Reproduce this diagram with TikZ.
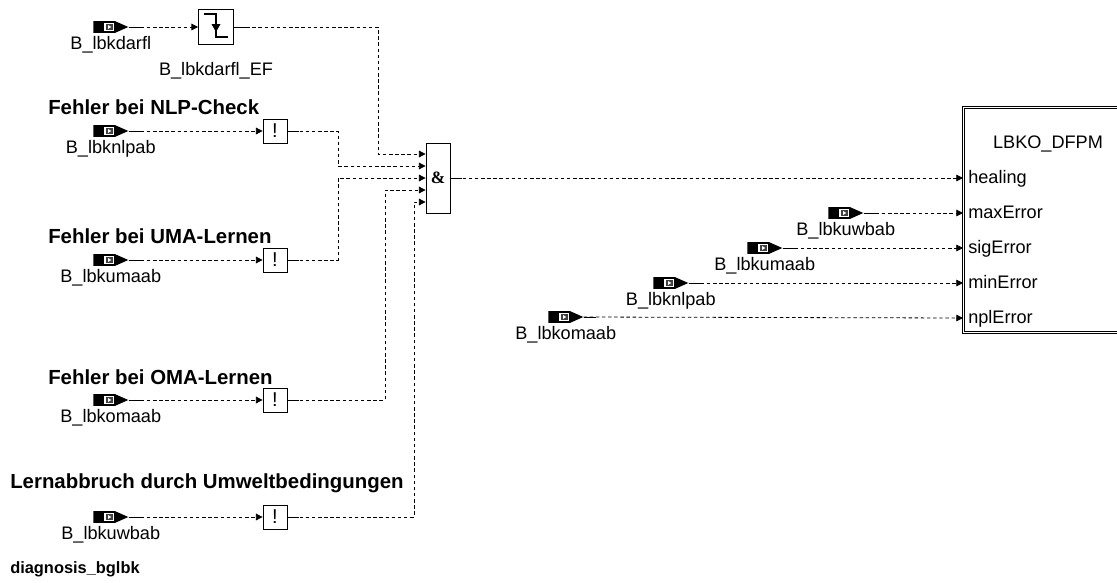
\documentclass[tikz,border=0pt]{standalone}
\usepackage{fontspec}
\setmainfont{Liberation Sans}
\newfontfamily\andfont{Liberation Serif}
\usetikzlibrary{arrows.meta,positioning}

\tikzset{
  wire/.style={line width=0.6pt, dash pattern=on 2.6pt off 2pt},
  stub/.style={line width=0.6pt},
  sig/.style={font=\fontsize{13.6}{15}\selectfont, inner sep=0pt},
  heading/.style={font=\bfseries\fontsize{15.3}{17}\selectfont, inner sep=0pt, anchor=base west},
  checkbox/.style={draw, line width=0.6pt, minimum width=24*0.75pt, minimum height=24*0.75pt,
    inner sep=0pt, font=\fontsize{15}{16}\selectfont},
  edgebox/.style={draw, line width=0.6pt, minimum width=35*0.75pt, minimum height=35*0.75pt, inner sep=0pt},
  andgate/.style={draw, line width=0.6pt, minimum width=24*0.75pt, minimum height=70*0.75pt,
    inner sep=0pt, font=\andfont\bfseries\fontsize{13}{15}\selectfont},
  block/.style={draw, line width=0.5pt, double, double distance=1.1pt, minimum width=160*0.75pt,
    minimum height=225*0.75pt, inner sep=0pt},
  inport/.style={minimum width=35*0.75pt, minimum height=12*0.75pt, inner sep=0pt, anchor=west,
    path picture={
      \coordinate (pp) at (path picture bounding box.west);
      \fill (pp) ++(0,-6) rectangle ++(22,12);
      \fill[white] (pp) ++(10.5,-4.4) rectangle ++(10.5,8.8);
      \fill[black!75] (pp) ++(13,-3.2) rectangle ++(6.4,6.4);
      \fill[white] (pp) ++(14.8,-2) -- ++(3.2,2) -- ++(-3.2,2) -- cycle;
      \fill (pp) ++(21.5,-6) -- ++(13.5,6) -- ++(-13.5,6) -- cycle;
    }}
}

\begin{document}
\begin{tikzpicture}[x=0.75pt, y=-0.75pt, >={Triangle[length=5pt,width=5pt]}]
\useasboundingbox (0,0) rectangle (1117,582);

% edge detection of B_lbkdarfl
\node[inport] (darfl) at (93,27) {};
\node[sig, below=2.25pt of darfl] (darflname) {B\_lbkdarfl};
\node[edgebox] (darflef) at (216,27) {};
\node[sig, below=13pt of darflef] (darflefname) {B\_lbkdarfl\_EF};
\draw[line width=1.3pt] (darflef.center) ++(-12,-13) -- ++(12,0) -- ++(0,23) -- ++(12,0);
\fill (darflef.center) ++(-4.5,-3) -- ++(9,0) -- ++(-4.5,8) -- cycle;
\draw[stub] (darfl.east) -- ++(12,0);
\draw[wire,->] (darfl.east) -- (darflef.west);

% error checks
\node[heading] (nlphead) at (48,114) {Fehler bei NLP-Check};
\node[inport] (nlp) at (93,131) {};
\node[sig, below=2.25pt of nlp] (nlpname) {B\_lbknlpab};
\node[checkbox] (nlpchk) at (275,131) {!};

\node[heading] (umahead) at (48,243) {Fehler bei UMA-Lernen};
\node[inport] (uma) at (93,260) {};
\node[sig, below=2.25pt of uma] (umaname) {B\_lbkumaab};
\node[checkbox] (umachk) at (275,260) {!};

\node[heading] (omahead) at (48,384) {Fehler bei OMA-Lernen};
\node[inport] (oma) at (93,400) {};
\node[sig, below=2.25pt of oma] (omaname) {B\_lbkomaab};
\node[checkbox] (omachk) at (275,400) {!};

\node[heading] (uwbhead) at (10,488) {Lernabbruch durch Umweltbedingungen};
\node[inport] (uwb) at (93,517) {};
\node[sig, below=2.25pt of uwb] (uwbname) {B\_lbkuwbab};
\node[checkbox] (uwbchk) at (275,517) {!};

\foreach \s in {nlp,uma,oma,uwb} {
  \draw[stub] (\s.east) -- ++(12,0);
  \draw[wire,->] (\s.east) -- (\s chk.west);
  \draw[stub] (\s chk.east) -- ++(12,0);
}

% and gate
\node[andgate] (andg) at (438,178) {\&};
\foreach \i/\dy in {1/-24,2/-12,3/0,4/12,5/24}
  \coordinate (and\i) at ([yshift=-\dy*0.75pt]andg.west);
\draw[stub] (darflef.east) -- ++(12,0);
\draw[wire,->] (darflef.east) -| (378,154) -- (and1);
\draw[wire,->] (nlpchk.east) -| (338,166) -- (and2);
\draw[wire,->] (umachk.east) -| (338,178) -- (and3);
\draw[wire,->] (omachk.east) -| (385,190) -- (and4);
\draw[wire,->] (uwbchk.east) -| (414,202) -- (and5);

% LBKO_DFPM block
\node[block, anchor=north west] (dfpm) at (963,107) {};
\node[sig] (dfpmname) at (1048,144) {LBKO\_DFPM};
\foreach \n/\y/\t in {1/178/healing,2/213/maxError,3/248/sigError,4/283/minError,5/318/nplError} {
  \coordinate (in\n) at (963,\y);
  \node[sig, anchor=base west] (pin\n) at (968,\y+5.5) {\t};
}

\draw[stub] (andg.east) -- ++(12,0);
\draw[wire,->] (andg.east) -- (in1);

% signals into the block
\node[inport] (uwbr) at (828,213) {};
\node[sig, below=2.25pt of uwbr] (uwbrname) {B\_lbkuwbab};
\node[inport] (umar) at (747,248) {};
\node[sig, below=2.25pt of umar] (umarname) {B\_lbkumaab};
\node[inport] (nlpr) at (653,283) {};
\node[sig, below=2.25pt of nlpr] (nlprname) {B\_lbknlpab};
\node[inport] (omar) at (548,317) {};
\node[sig, below=2.25pt of omar] (omarname) {B\_lbkomaab};
\foreach \s/\n in {uwbr/2,umar/3,nlpr/4,omar/5} {
  \draw[stub] (\s.east) -- ++(12,0);
  \draw[wire,->] (\s.east) -- (in\n);
}

\node[heading, font=\bfseries\fontsize{12.3}{14}\selectfont] (sheet) at (10,573) {diagnosis\_bglbk};

\end{tikzpicture}
\end{document}
